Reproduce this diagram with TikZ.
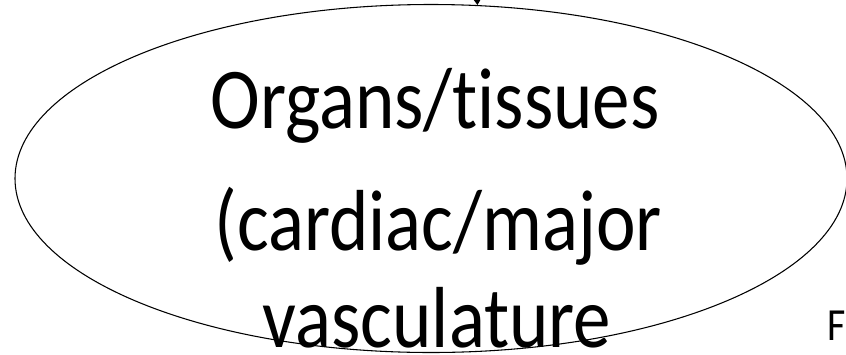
\documentclass[tikz,border=0pt]{standalone}
\usepackage{fontspec}
\setmainfont[Ligatures=NoCommon]{Carlito}
\usetikzlibrary{shapes.geometric,arrows.meta}
\tikzset{
  outline/.style={draw=black, line width=0.8pt},
  bigtext/.style={inner sep=0pt, anchor=base, font=\fontsize{65}{65}\selectfont},
  smalltext/.style={inner sep=0pt, anchor=base west, font=\fontsize{34.5}{34.5}\selectfont}
}
\newcommand{\narrow}[1]{\scalebox{0.865}[1]{#1}}
\begin{document}
\begin{tikzpicture}[x=0.75pt, y=-0.75pt]
\useasboundingbox (0,0) rectangle (846,354);
\node[outline, ellipse, minimum width=624pt, minimum height=261pt, inner sep=0pt] (organ) at (431,178.5) {};
\coordinate (src) at (475,-40);
\draw[line width=0.8pt, -{Triangle[width=7.5pt,length=6pt]}] (src) -- (organ.75.7);
\node[bigtext] (l1) at (435,128) {\narrow{Organs/tissues}};
\node[bigtext] (l2) at (438,250) {\narrow{(cardiac/major}};
\node[bigtext] (l3) at (437,347) {\narrow{vasculature}};
\node[smalltext] (f) at (827,340) {\narrow{F}};
\end{tikzpicture}
\end{document}
